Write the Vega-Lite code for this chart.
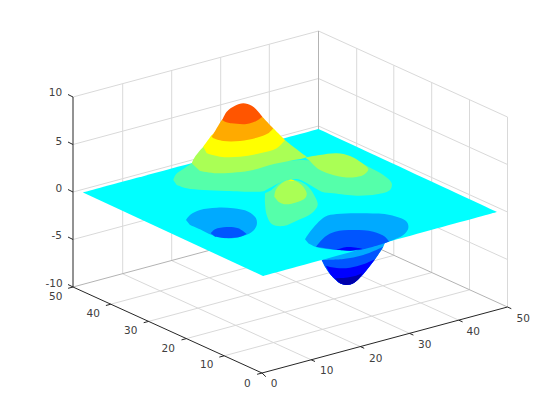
{"$schema":"https://vega.github.io/schema/vega-lite/v6.json","width":560,"height":420,"padding":0,"autosize":{"type":"fit","contains":"padding"},"background":"white","config":{"view":{"stroke":null}},
"resolve":{"scale":{"color":"independent"}},
"datasets":{
"lines":[
{"id":"g1","kind":"grid","u":224.2,"v":355.8},{"id":"g1","kind":"grid","u":469.5,"v":289.8},
{"id":"g2","kind":"grid","u":186.4,"v":338.6},{"id":"g2","kind":"grid","u":431.7,"v":272.6},
{"id":"g3","kind":"grid","u":148.6,"v":321.4},{"id":"g3","kind":"grid","u":393.8,"v":255.4},
{"id":"g4","kind":"grid","u":110.8,"v":304.2},{"id":"g4","kind":"grid","u":356.7,"v":238.2},
{"id":"g5","kind":"grid","u":311.2,"v":359.8},{"id":"g5","kind":"grid","u":122.7,"v":273.8},
{"id":"g6","kind":"grid","u":360.4,"v":346.6},{"id":"g6","kind":"grid","u":171.7,"v":260.6},
{"id":"g7","kind":"grid","u":409.6,"v":333.4},{"id":"g7","kind":"grid","u":220.7,"v":247.4},
{"id":"g8","kind":"grid","u":458.8,"v":320.2},{"id":"g8","kind":"grid","u":269.3,"v":234.2},
{"id":"g9","kind":"grid","u":122.7,"v":273.8},{"id":"g9","kind":"grid","u":122.7,"v":83.8},
{"id":"g10","kind":"grid","u":171.7,"v":260.6},{"id":"g10","kind":"grid","u":171.7,"v":70.6},
{"id":"g11","kind":"grid","u":220.7,"v":247.4},{"id":"g11","kind":"grid","u":220.7,"v":57.4},
{"id":"g12","kind":"grid","u":269.3,"v":234.2},{"id":"g12","kind":"grid","u":269.3,"v":44.2},
{"id":"g13","kind":"grid","u":356.7,"v":238.2},{"id":"g13","kind":"grid","u":356.7,"v":48.2},
{"id":"g14","kind":"grid","u":393.8,"v":255.4},{"id":"g14","kind":"grid","u":393.8,"v":65.4},
{"id":"g15","kind":"grid","u":431.7,"v":272.6},{"id":"g15","kind":"grid","u":431.7,"v":82.6},
{"id":"g16","kind":"grid","u":469.5,"v":289.8},{"id":"g16","kind":"grid","u":469.5,"v":99.8},
{"id":"g17","kind":"grid","u":507.5,"v":307},{"id":"g17","kind":"grid","u":507.5,"v":117},
{"id":"g18","kind":"grid","u":73,"v":97},{"id":"g18","kind":"grid","u":318.5,"v":31},{"id":"g18","kind":"grid","u":507.5,"v":117},
{"id":"g19","kind":"grid","u":73,"v":144.5},{"id":"g19","kind":"grid","u":318.5,"v":78.5},{"id":"g19","kind":"grid","u":507.5,"v":164.5},
{"id":"g20","kind":"grid","u":73,"v":192},{"id":"g20","kind":"grid","u":318.5,"v":126},{"id":"g20","kind":"grid","u":507.5,"v":212},
{"id":"g21","kind":"grid","u":73,"v":239.5},{"id":"g21","kind":"grid","u":318.5,"v":173.5},{"id":"g21","kind":"grid","u":507.5,"v":259.5},
{"id":"b1","kind":"box","u":73,"v":287},{"id":"b1","kind":"box","u":318.5,"v":221},{"id":"b1","kind":"box","u":507.5,"v":307},
{"id":"b2","kind":"box","u":318.5,"v":221},{"id":"b2","kind":"box","u":318.5,"v":31},
{"id":"a1","kind":"axis","u":73,"v":97},{"id":"a1","kind":"axis","u":73,"v":287},{"id":"a1","kind":"axis","u":262,"v":373},{"id":"a1","kind":"axis","u":507.5,"v":307},
{"id":"t1","kind":"axis","u":73,"v":97},{"id":"t1","kind":"axis","u":68,"v":94.5},
{"id":"t2","kind":"axis","u":73,"v":144.5},{"id":"t2","kind":"axis","u":68,"v":142},
{"id":"t3","kind":"axis","u":73,"v":192},{"id":"t3","kind":"axis","u":68,"v":189.5},
{"id":"t4","kind":"axis","u":73,"v":239.5},{"id":"t4","kind":"axis","u":68,"v":237},
{"id":"t5","kind":"axis","u":73,"v":287},{"id":"t5","kind":"axis","u":68,"v":284.5},
{"id":"t6","kind":"axis","u":73,"v":287},{"id":"t6","kind":"axis","u":68.1,"v":288.3},
{"id":"t7","kind":"axis","u":110.8,"v":304.2},{"id":"t7","kind":"axis","u":105.9,"v":305.5},
{"id":"t8","kind":"axis","u":148.6,"v":321.4},{"id":"t8","kind":"axis","u":143.7,"v":322.7},
{"id":"t9","kind":"axis","u":186.4,"v":338.6},{"id":"t9","kind":"axis","u":181.5,"v":339.9},
{"id":"t10","kind":"axis","u":224.2,"v":355.8},{"id":"t10","kind":"axis","u":219.3,"v":357.1},
{"id":"t11","kind":"axis","u":262,"v":373},{"id":"t11","kind":"axis","u":257.1,"v":374.3},
{"id":"t12","kind":"axis","u":262,"v":373},{"id":"t12","kind":"axis","u":265.8,"v":376.7},
{"id":"t13","kind":"axis","u":311.2,"v":359.8},{"id":"t13","kind":"axis","u":315,"v":361.5},
{"id":"t14","kind":"axis","u":360.4,"v":346.6},{"id":"t14","kind":"axis","u":364.2,"v":348.3},
{"id":"t15","kind":"axis","u":409.6,"v":333.4},{"id":"t15","kind":"axis","u":413.4,"v":335.1},
{"id":"t16","kind":"axis","u":458.8,"v":320.2},{"id":"t16","kind":"axis","u":462.6,"v":321.9},
{"id":"t17","kind":"axis","u":507.5,"v":307},{"id":"t17","kind":"axis","u":511.3,"v":308.7}
],
"polys":[
{"id":"c1","level":-2,"u":321.7,"v":260},{"id":"c1","level":-2,"u":321.7,"v":260},{"id":"c1","level":-2,"u":325,"v":266.7},{"id":"c1","level":-2,"u":330,"v":274},{"id":"c1","level":-2,"u":335,"v":279.3},{"id":"c1","level":-2,"u":340,"v":283.3},{"id":"c1","level":-2,"u":346.7,"v":285},{"id":"c1","level":-2,"u":353.3,"v":283.3},{"id":"c1","level":-2,"u":359.3,"v":278.3},{"id":"c1","level":-2,"u":366.7,"v":270},{"id":"c1","level":-2,"u":375,"v":259.3},{"id":"c1","level":-2,"u":383.3,"v":246.7},{"id":"c1","level":-2,"u":386,"v":240},{"id":"c1","level":-2,"u":386,"v":240},{"id":"c1","level":-2,"u":340,"v":245},{"id":"c1","level":-2,"u":340,"v":245},
{"id":"c2","level":-4,"u":321.7,"v":260},{"id":"c2","level":-4,"u":321.7,"v":260},{"id":"c2","level":-4,"u":343.3,"v":259},{"id":"c2","level":-4,"u":363.3,"v":255},{"id":"c2","level":-4,"u":383.3,"v":246.7},{"id":"c2","level":-4,"u":383.3,"v":246.7},{"id":"c2","level":-4,"u":375,"v":259.3},{"id":"c2","level":-4,"u":366.7,"v":270},{"id":"c2","level":-4,"u":359.3,"v":278.3},{"id":"c2","level":-4,"u":353.3,"v":283.3},{"id":"c2","level":-4,"u":346.7,"v":285},{"id":"c2","level":-4,"u":340,"v":283.3},{"id":"c2","level":-4,"u":335,"v":279.3},{"id":"c2","level":-4,"u":330,"v":274},{"id":"c2","level":-4,"u":325,"v":266.7},
{"id":"c3","level":-6,"u":326,"v":266},{"id":"c3","level":-6,"u":326,"v":266},{"id":"c3","level":-6,"u":336.7,"v":268},{"id":"c3","level":-6,"u":350,"v":267.7},{"id":"c3","level":-6,"u":363.3,"v":264.3},{"id":"c3","level":-6,"u":375,"v":259.3},{"id":"c3","level":-6,"u":375,"v":259.3},{"id":"c3","level":-6,"u":366.7,"v":270},{"id":"c3","level":-6,"u":359.3,"v":278.3},{"id":"c3","level":-6,"u":353.3,"v":283.3},{"id":"c3","level":-6,"u":346.7,"v":285},{"id":"c3","level":-6,"u":340,"v":283.3},{"id":"c3","level":-6,"u":335,"v":279.3},{"id":"c3","level":-6,"u":330,"v":274},
{"id":"c4","level":-8,"u":335,"v":278.3},{"id":"c4","level":-8,"u":335,"v":278.3},{"id":"c4","level":-8,"u":345,"v":277.7},{"id":"c4","level":-8,"u":355,"v":276},{"id":"c4","level":-8,"u":362.3,"v":273.3},{"id":"c4","level":-8,"u":362.3,"v":273.3},{"id":"c4","level":-8,"u":359.3,"v":278.3},{"id":"c4","level":-8,"u":353.3,"v":283.3},{"id":"c4","level":-8,"u":346.7,"v":285},{"id":"c4","level":-8,"u":340,"v":283.3},
{"id":"p0","level":0,"u":83,"v":192.5},{"id":"p0","level":0,"u":83,"v":192.5},{"id":"p0","level":0,"u":318.5,"v":129},{"id":"p0","level":0,"u":318.5,"v":129},{"id":"p0","level":0,"u":497,"v":212},{"id":"p0","level":0,"u":497,"v":212},{"id":"p0","level":0,"u":263,"v":276},{"id":"p0","level":0,"u":263,"v":276},
{"id":"m1","level":2,"u":173.3,"v":180},{"id":"m1","level":2,"u":176,"v":174.3},{"id":"m1","level":2,"u":183.3,"v":169},{"id":"m1","level":2,"u":191.7,"v":163.3},{"id":"m1","level":2,"u":191.7,"v":163.3},{"id":"m1","level":2,"u":240,"v":165},{"id":"m1","level":2,"u":300,"v":160},{"id":"m1","level":2,"u":320,"v":161},{"id":"m1","level":2,"u":353.3,"v":158},{"id":"m1","level":2,"u":353.3,"v":158},{"id":"m1","level":2,"u":368.3,"v":166.7},{"id":"m1","level":2,"u":383.3,"v":175},{"id":"m1","level":2,"u":391.7,"v":183.3},{"id":"m1","level":2,"u":390,"v":190},{"id":"m1","level":2,"u":376.7,"v":194.3},{"id":"m1","level":2,"u":356.7,"v":195.7},{"id":"m1","level":2,"u":333.3,"v":193.3},{"id":"m1","level":2,"u":321.7,"v":191.7},{"id":"m1","level":2,"u":310,"v":185},{"id":"m1","level":2,"u":298.3,"v":179.3},{"id":"m1","level":2,"u":286.7,"v":180},{"id":"m1","level":2,"u":265,"v":190.7},{"id":"m1","level":2,"u":265,"v":190.7},{"id":"m1","level":2,"u":260,"v":191.7},{"id":"m1","level":2,"u":226.7,"v":191},{"id":"m1","level":2,"u":203.3,"v":190},{"id":"m1","level":2,"u":186.7,"v":188.3},{"id":"m1","level":2,"u":176.7,"v":185},
{"id":"m2","level":2,"u":265,"v":193.3},{"id":"m2","level":2,"u":265,"v":193.3},{"id":"m2","level":2,"u":265,"v":203.3},{"id":"m2","level":2,"u":266.7,"v":215},{"id":"m2","level":2,"u":271.7,"v":224},{"id":"m2","level":2,"u":283.3,"v":226},{"id":"m2","level":2,"u":298.3,"v":220},{"id":"m2","level":2,"u":311.7,"v":213.3},{"id":"m2","level":2,"u":317.7,"v":205},{"id":"m2","level":2,"u":315,"v":196.7},{"id":"m2","level":2,"u":308.3,"v":186.7},{"id":"m2","level":2,"u":298.3,"v":180.7},{"id":"m2","level":2,"u":288.3,"v":179.3},{"id":"m2","level":2,"u":278.3,"v":184},{"id":"m2","level":2,"u":271.7,"v":190},{"id":"m2","level":2,"u":271.7,"v":190},
{"id":"l1","level":4,"u":191.7,"v":163.3},{"id":"l1","level":4,"u":191.7,"v":163.3},{"id":"l1","level":4,"u":195,"v":156.7},{"id":"l1","level":4,"u":203.3,"v":146.7},{"id":"l1","level":4,"u":203.3,"v":146.7},{"id":"l1","level":4,"u":240,"v":140},{"id":"l1","level":4,"u":285,"v":140},{"id":"l1","level":4,"u":285,"v":140},{"id":"l1","level":4,"u":293.3,"v":146.7},{"id":"l1","level":4,"u":306.7,"v":156.7},{"id":"l1","level":4,"u":306.7,"v":156.7},{"id":"l1","level":4,"u":303.3,"v":158.3},{"id":"l1","level":4,"u":290,"v":160.7},{"id":"l1","level":4,"u":270,"v":165},{"id":"l1","level":4,"u":253.3,"v":170},{"id":"l1","level":4,"u":236.7,"v":172.3},{"id":"l1","level":4,"u":216.7,"v":173.3},{"id":"l1","level":4,"u":200,"v":171},
{"id":"l2","level":4,"u":305,"v":157.5},{"id":"l2","level":4,"u":305,"v":157.5},{"id":"l2","level":4,"u":320,"v":155},{"id":"l2","level":4,"u":336.7,"v":153.3},{"id":"l2","level":4,"u":350,"v":156},{"id":"l2","level":4,"u":360,"v":161.7},{"id":"l2","level":4,"u":368.3,"v":169.3},{"id":"l2","level":4,"u":363.3,"v":175},{"id":"l2","level":4,"u":346.7,"v":177.5},{"id":"l2","level":4,"u":330,"v":174},{"id":"l2","level":4,"u":318.3,"v":169},{"id":"l2","level":4,"u":310,"v":161},{"id":"l2","level":4,"u":310,"v":161},
{"id":"l3","level":4,"u":274.3,"v":196.7},{"id":"l3","level":4,"u":275.7,"v":190},{"id":"l3","level":4,"u":281.7,"v":183.3},{"id":"l3","level":4,"u":288.3,"v":180},{"id":"l3","level":4,"u":295,"v":180.7},{"id":"l3","level":4,"u":301.7,"v":185},{"id":"l3","level":4,"u":306.7,"v":193.3},{"id":"l3","level":4,"u":305,"v":198.3},{"id":"l3","level":4,"u":296.7,"v":202.3},{"id":"l3","level":4,"u":285,"v":204.3},{"id":"l3","level":4,"u":278.3,"v":201.7},
{"id":"y1","level":6,"u":203.3,"v":146.7},{"id":"y1","level":6,"u":203.3,"v":146.7},{"id":"y1","level":6,"u":211.7,"v":135},{"id":"y1","level":6,"u":211.7,"v":135},{"id":"y1","level":6,"u":240,"v":125},{"id":"y1","level":6,"u":273.3,"v":128.3},{"id":"y1","level":6,"u":273.3,"v":128.3},{"id":"y1","level":6,"u":285,"v":140},{"id":"y1","level":6,"u":285,"v":140},{"id":"y1","level":6,"u":276.7,"v":148.3},{"id":"y1","level":6,"u":260,"v":153.3},{"id":"y1","level":6,"u":240,"v":156.7},{"id":"y1","level":6,"u":220,"v":156.7},{"id":"y1","level":6,"u":206.7,"v":153.3},
{"id":"y2","level":6,"u":288.3,"v":180.3},{"id":"y2","level":6,"u":291,"v":179.5},{"id":"y2","level":6,"u":294.3,"v":180.7},{"id":"y2","level":6,"u":291,"v":181},
{"id":"o1","level":8,"u":211.7,"v":136.7},{"id":"o1","level":8,"u":211.7,"v":136.7},{"id":"o1","level":8,"u":221.7,"v":120},{"id":"o1","level":8,"u":221.7,"v":120},{"id":"o1","level":8,"u":240,"v":112},{"id":"o1","level":8,"u":262.3,"v":116.7},{"id":"o1","level":8,"u":262.3,"v":116.7},{"id":"o1","level":8,"u":273.3,"v":128.3},{"id":"o1","level":8,"u":273.3,"v":128.3},{"id":"o1","level":8,"u":268.3,"v":133.3},{"id":"o1","level":8,"u":256.7,"v":137.7},{"id":"o1","level":8,"u":240,"v":141},{"id":"o1","level":8,"u":223.3,"v":141},{"id":"o1","level":8,"u":213.3,"v":138.3},
{"id":"r1","level":10,"u":222.3,"v":120},{"id":"r1","level":10,"u":222.3,"v":120},{"id":"r1","level":10,"u":226.7,"v":111.7},{"id":"r1","level":10,"u":235,"v":105.7},{"id":"r1","level":10,"u":243.3,"v":103.3},{"id":"r1","level":10,"u":251.7,"v":105.7},{"id":"r1","level":10,"u":258.3,"v":111.7},{"id":"r1","level":10,"u":262.3,"v":116.7},{"id":"r1","level":10,"u":262.3,"v":116.7},{"id":"r1","level":10,"u":256.7,"v":120.7},{"id":"r1","level":10,"u":246.7,"v":124},{"id":"r1","level":10,"u":231.7,"v":123.3},{"id":"r1","level":10,"u":225,"v":121.7},
{"id":"k1","level":-2,"u":186,"v":220},{"id":"k1","level":-2,"u":190,"v":215},{"id":"k1","level":-2,"u":200,"v":210},{"id":"k1","level":-2,"u":216.7,"v":207.7},{"id":"k1","level":-2,"u":233.3,"v":208.3},{"id":"k1","level":-2,"u":248.3,"v":211.7},{"id":"k1","level":-2,"u":256,"v":218.3},{"id":"k1","level":-2,"u":256.7,"v":225},{"id":"k1","level":-2,"u":253.3,"v":230.7},{"id":"k1","level":-2,"u":246,"v":235},{"id":"k1","level":-2,"u":236.7,"v":237.7},{"id":"k1","level":-2,"u":225,"v":238.3},{"id":"k1","level":-2,"u":211.7,"v":235},{"id":"k1","level":-2,"u":200,"v":229.3},{"id":"k1","level":-2,"u":190,"v":225},
{"id":"k2","level":-4,"u":210.7,"v":233.3},{"id":"k2","level":-4,"u":210.7,"v":233.3},{"id":"k2","level":-4,"u":215,"v":229.3},{"id":"k2","level":-4,"u":226.7,"v":227},{"id":"k2","level":-4,"u":238.3,"v":228.3},{"id":"k2","level":-4,"u":246.7,"v":234},{"id":"k2","level":-4,"u":246.7,"v":234},{"id":"k2","level":-4,"u":238.3,"v":237.3},{"id":"k2","level":-4,"u":225,"v":238},{"id":"k2","level":-4,"u":215,"v":236.7},
{"id":"n1","level":-2,"u":305,"v":239.3},{"id":"n1","level":-2,"u":310,"v":231.7},{"id":"n1","level":-2,"u":325,"v":216.7},{"id":"n1","level":-2,"u":336.7,"v":214},{"id":"n1","level":-2,"u":366.7,"v":213.3},{"id":"n1","level":-2,"u":390,"v":215},{"id":"n1","level":-2,"u":406.7,"v":221.7},{"id":"n1","level":-2,"u":408.3,"v":228.3},{"id":"n1","level":-2,"u":403.3,"v":235},{"id":"n1","level":-2,"u":388.3,"v":241.7},{"id":"n1","level":-2,"u":363.3,"v":249.3},{"id":"n1","level":-2,"u":336.7,"v":250},{"id":"n1","level":-2,"u":316.7,"v":247.3},{"id":"n1","level":-2,"u":308.3,"v":243.3},
{"id":"n2","level":-4,"u":316,"v":246.7},{"id":"n2","level":-4,"u":316,"v":246.7},{"id":"n2","level":-4,"u":325,"v":236.7},{"id":"n2","level":-4,"u":335,"v":231.7},{"id":"n2","level":-4,"u":353.3,"v":230},{"id":"n2","level":-4,"u":373.3,"v":231.7},{"id":"n2","level":-4,"u":385,"v":236.7},{"id":"n2","level":-4,"u":389,"v":241.7},{"id":"n2","level":-4,"u":389,"v":241.7},{"id":"n2","level":-4,"u":363.3,"v":249.3},{"id":"n2","level":-4,"u":350,"v":250.7},{"id":"n2","level":-4,"u":336.7,"v":250},
{"id":"n3","level":-6,"u":336.7,"v":249.7},{"id":"n3","level":-6,"u":336.7,"v":249.7},{"id":"n3","level":-6,"u":346.7,"v":247},{"id":"n3","level":-6,"u":356.7,"v":247.7},{"id":"n3","level":-6,"u":363.3,"v":249},{"id":"n3","level":-6,"u":363.3,"v":249},{"id":"n3","level":-6,"u":350,"v":250.7}
],
"labels":[
{"t":"10","u":55.5,"v":93},{"t":"5","u":58.8,"v":141.5},{"t":"0","u":58.8,"v":188.5},{"t":"-5","u":56.7,"v":236},{"t":"-10","u":54,"v":283.5},
{"t":"50","u":55.7,"v":296.5},{"t":"40","u":93.3,"v":313.5},{"t":"30","u":130.7,"v":331},{"t":"20","u":168.3,"v":348.5},{"t":"10","u":206.7,"v":365},{"t":"0","u":247.3,"v":383.5},
{"t":"0","u":274,"v":384},{"t":"10","u":326.7,"v":371},{"t":"20","u":375.7,"v":358.5},{"t":"30","u":424.7,"v":344.5},{"t":"40","u":473.3,"v":331.5},{"t":"50","u":523.3,"v":318.5}
]},
"encoding":{"x":{"field":"u","type":"quantitative","axis":null,"scale":{"domain":[0,560],"nice":false,"zero":false}},"y":{"field":"v","type":"quantitative","axis":null,"scale":{"domain":[420,0],"nice":false,"zero":false}}},
"layer":[
{"data":{"name":"lines"},"transform":[{"window":[{"op":"row_number","as":"o"}]}],"mark":{"type":"line","strokeWidth":1},"encoding":{"detail":{"field":"id"},"order":{"field":"o","type":"quantitative"},"color":{"field":"kind","type":"nominal","legend":null,"scale":{"domain":["grid","box","axis"],"range":["#d9d9d9","#b3b3b3","#262626"]}}}},
{"data":{"name":"polys"},"transform":[{"window":[{"op":"row_number","as":"o"}]}],"mark":{"type":"line","filled":true,"interpolate":"catmull-rom"},"encoding":{"detail":{"field":"id"},"order":{"field":"o","type":"quantitative"},"color":{"field":"level","type":"ordinal","legend":null,"scale":{"domain":[-8,-6,-4,-2,0,2,4,6,8,10],"range":["#0000aa","#0000ff","#0055ff","#00aaff","#00ffff","#55ffaa","#aaff55","#ffff00","#ffaa00","#ff5500"]}}}},
{"data":{"name":"labels"},"mark":{"type":"text","font":"DejaVu Sans","fontSize":10.5,"color":"#404040","align":"center","baseline":"middle"},"encoding":{"text":{"field":"t"}}}
]}
